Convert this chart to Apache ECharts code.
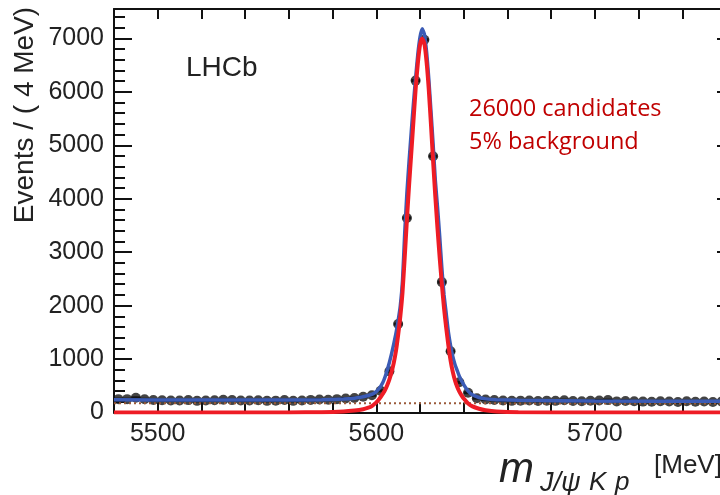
<!DOCTYPE html>
<html>
<head>
<meta charset="utf-8">
<script src="https://cdn.jsdelivr.net/npm/echarts@6/dist/echarts.min.js"></script>
<style>html,body{margin:0;padding:0;background:#fff;}#c{width:720px;height:495px;}</style>
</head>
<body>
<div id="c"></div>
<script>
// ---- data ----
const binCenters = [5482,5486,5490,5494,5498,5502,5506,5510,5514,5518,5522,5526,5530,5534,5538,5542,5546,5550,5554,5558,5562,5566,5570,5574,5578,5582,5586,5590,5594,5598,5602,5606,5610,5614,5618,5622,5626,5630,5634,5638,5642,5646,5650,5654,5658,5662,5666,5670,5674,5678,5682,5686,5690,5694,5698,5702,5706,5710,5714,5718,5722,5726,5730,5734,5738,5742,5746,5750,5754,5758];
const counts = [250,250,275,248,234,230,224,226,232,218,224,228,238,232,226,224,230,218,222,234,218,226,236,242,238,250,262,272,295,322,405,770,1655,3640,6210,6975,4795,2440,1145,565,370,268,243,234,224,218,222,226,214,222,218,230,214,210,220,226,232,208,216,210,204,200,212,206,196,210,202,206,196,206];

const totalMass = [5480,5520,5560,5575,5585,5590,5594,5597,5599,5601,5603,5605,5607,5609,5610,5611,5612,5613,5614,5615,5616,5617,5618,5619,5620,5621,5622,5623,5624,5625,5626,5627,5628,5629,5630,5631,5632,5633,5634,5635,5636,5637,5638,5640,5642,5644,5647,5650,5655,5665,5700,5760];
const totalFit  = [238,232,232,238,252,268,295,328,362,432,560,790,1100,1480,1720,2000,2470,3350,4100,4700,5250,5780,6260,6700,7020,7180,7080,6750,6250,5650,5020,4350,3850,3300,2700,2200,1850,1500,1250,1050,900,790,680,520,400,330,280,255,240,228,215,208];

const signalMass = [5480,5560,5575,5585,5590,5594,5596,5598,5600,5601,5602,5603,5604,5605,5606,5607,5608,5609,5610,5611,5612,5613,5614,5615,5616,5617,5618,5619,5620,5621,5622,5623,5624,5625,5626,5627,5628,5629,5630,5631,5632,5633,5634,5635,5636,5637,5638,5639,5640,5642,5644,5647,5650,5655,5665,5700,5760];
const signalFit  = [0,2,7,20,38,62,85,120,190,235,290,350,420,510,620,760,930,1150,1450,1800,2250,2900,3600,4250,4850,5450,6050,6530,6880,7000,6900,6560,6050,5400,4700,4050,3450,2900,2400,1950,1580,1250,970,760,600,480,390,320,260,170,115,70,42,18,5,1,0];

const bkgMass = [5480,5760];
const bkgFit  = [172,170];

const xTickValues = [5500,5600,5700];
const yTickValues = [0,1000,2000,3000,4000,5000,6000,7000];

// ---- chart ----
const zip = (a,b) => a.map((v,i)=>[v,b[i]]);
const chart = echarts.init(document.getElementById('c'), null, {renderer:'canvas'});
const FONT = 'Liberation Sans, Arial, Helvetica, sans-serif';
const axisCol = '#111';
const X_MIN = 5480, X_MAX = 5760, Y_MAX = 7550;

const xBase = {
  type:'value', min:X_MIN, max:X_MAX, interval:20, gridIndex:0,
  axisLine:{show:true, onZero:false, lineStyle:{color:axisCol, width:2}},
  axisTick:{show:true, inside:true, length:10, lineStyle:{color:axisCol, width:2}},
  splitLine:{show:false}
};
const yBase = {
  type:'value', min:0, max:Y_MAX, gridIndex:0,
  splitLine:{show:false}
};

chart.setOption({
  animation:false,
  backgroundColor:'#fff',
  grid:{left:114, right:-6, top:9, bottom:82.5, containLabel:false, outerBoundsMode:'none'},
  xAxis:[
    Object.assign({}, xBase, {position:'bottom',
      axisLabel:{show:true, interval:0, margin:9, fontSize:25, color:'#222', fontFamily:FONT,
        formatter:v => xTickValues.includes(v) ? String(v) : ''}}),
    Object.assign({}, xBase, {position:'top', axisLabel:{show:false}})
  ],
  yAxis:[
    Object.assign({}, yBase, {position:'left', interval:200,
      axisLine:{show:true, onZero:false, lineStyle:{color:axisCol, width:2}},
      axisTick:{show:true, inside:true, length:11, lineStyle:{color:axisCol, width:2}},
      axisLabel:{show:true, interval:0, margin:10, fontSize:25, color:'#222', fontFamily:FONT,
        formatter:v => yTickValues.includes(v) ? String(v) : ''}}),
    Object.assign({}, yBase, {position:'left', interval:1000,
      axisLine:{show:false},
      axisTick:{show:true, inside:true, length:18, lineStyle:{color:axisCol, width:2}},
      axisLabel:{show:false}}),
    Object.assign({}, yBase, {position:'right', interval:1000,
      axisLine:{show:true, onZero:false, lineStyle:{color:axisCol, width:2}},
      axisTick:{show:true, inside:true, length:9, lineStyle:{color:axisCol, width:2}},
      axisLabel:{show:false}})
  ],
  series:[
    {
      type:'custom', name:'errors', xAxisIndex:0, yAxisIndex:0, z:2, silent:true,
      data: zip(binCenters, counts),
      renderItem:(params, api) => {
        const x = api.value(0), y = api.value(1), e = Math.sqrt(y);
        const l = api.coord([x-2, y]), r = api.coord([x+2, y]);
        const t = api.coord([x, y+e]), b = api.coord([x, y-e]);
        return {type:'group', children:[
          {type:'line', shape:{x1:l[0], y1:l[1], x2:r[0], y2:r[1]}, style:{stroke:'#111', lineWidth:3}},
          {type:'line', shape:{x1:t[0], y1:t[1], x2:b[0], y2:b[1]}, style:{stroke:'#111', lineWidth:3}}
        ]};
      }
    },
    {
      type:'scatter', name:'data', xAxisIndex:0, yAxisIndex:0, z:2, silent:true,
      data: zip(binCenters, counts), symbol:'circle', symbolSize:10,
      itemStyle:{color:'#151515'}
    },
    {
      type:'line', name:'background', xAxisIndex:0, yAxisIndex:0, z:3, silent:true,
      data: zip(bkgMass, bkgFit), showSymbol:false,
      lineStyle:{color:'#9a5a3a', width:2, type:[2,3]}
    },
    {
      type:'line', name:'total', xAxisIndex:0, yAxisIndex:0, z:4, silent:true,
      data: zip(totalMass, totalFit), showSymbol:false, smooth:0.2,
      lineStyle:{color:'#3b5bb5', width:3.5}
    },
    {
      type:'line', name:'signal', xAxisIndex:0, yAxisIndex:0, z:5, silent:true,
      data: zip(signalMass, signalFit), showSymbol:false, smooth:0.2,
      lineStyle:{color:'#ee1c25', width:4}
    }
  ],
  graphic:[
    {type:'text', left:186, top:54, z:10, style:{text:'LHCb', font:'28px '+FONT, fill:'#222'}},
    {type:'text', left:469, top:97, z:10, style:{text:'26000 candidates', font:'23.5px "Open Sans", sans-serif', fill:'#c00000'}},
    {type:'text', left:469, top:130, z:10, style:{text:'5% background', font:'23.5px "Open Sans", sans-serif', fill:'#c00000'}},
    {type:'text', x:25, y:115, rotation:Math.PI/2, z:10,
      style:{text:'Events / ( 4 MeV)', font:'28px '+FONT, fill:'#222', align:'center', verticalAlign:'middle'}},
    {type:'text', left:499, top:449, z:10, style:{text:'m', font:'italic 42px '+FONT, fill:'#222'}},
    {type:'text', left:540, top:470, z:10, style:{text:'J/ψ', font:'italic 27px '+FONT, fill:'#222'}},
    {type:'text', left:589, top:470, z:10, style:{text:'K', font:'italic 26px '+FONT, fill:'#222'}},
    {type:'text', left:615, top:470, z:10, style:{text:'p', font:'italic 26px '+FONT, fill:'#222'}},
    {type:'text', left:654, top:453, z:10, style:{text:'[MeV]', font:'26px '+FONT, fill:'#222'}}
  ]
});
</script>
</body>
</html>
